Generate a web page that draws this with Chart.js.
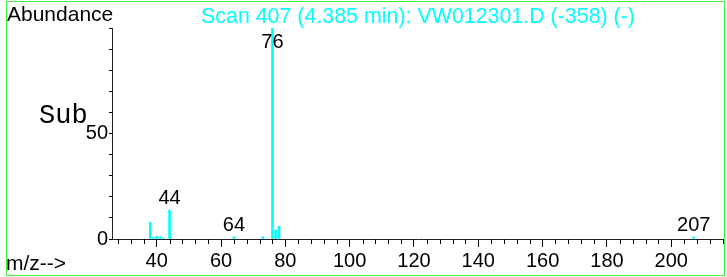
<!DOCTYPE html>
<html>
<head>
<meta charset="utf-8">
<script src="https://cdn.jsdelivr.net/npm/chart.js@4/dist/chart.umd.min.js"></script>
<style>
  html, body { margin: 0; padding: 0; background: #fff; }
  #wrap { position: relative; width: 727px; height: 277px; }
</style>
</head>
<body>
<div id="wrap"><canvas id="c" width="727" height="277"></canvas></div>
<script>
// ---- data ----
const mzValues   = [38, 39, 40, 41, 42, 44, 64, 73, 76, 77, 78, 207];
const abundances = [8.0, 0.7, 1.3, 1.1, 0.5, 13.7, 1.0, 1.1, 100, 4.3, 6.1, 1.0];
const labeledPeaks = [44, 64, 76, 207];
const xMajorTicks = [40, 60, 80, 100, 120, 140, 160, 180, 200];
const xMinorStep = 4;
const xTickStart = 28, xTickEnd = 216;
const yTickLabels = [0, 50];
const yMinorStep = 10;
const titleText = 'Scan 407 (4.385 min): VW012301.D (-358) (-)';
const yAxisText = 'Abundance';
const xAxisText = 'm/z-->';
const subText = 'Sub';

const CYAN = '#00ffff';
const SANS = '"Liberation Sans", Arial, sans-serif';
const MONO = '"Liberation Mono", "Courier New", monospace';

const points = mzValues.map((m, i) => ({ x: m, y: abundances[i] }));

const overlay = {
  id: 'overlay',
  afterDraw(chart) {
    const ctx = chart.ctx;
    const xs = chart.scales.x, ys = chart.scales.y;
    const area = chart.chartArea;
    ctx.save();
    // minor x ticks
    ctx.strokeStyle = '#000';
    ctx.lineWidth = 1;
    xs.ticks.forEach(t => {
      if (xMajorTicks.indexOf(t.value) === -1) {
        const px = Math.round(xs.getPixelForValue(t.value)) + 0.5;
        ctx.beginPath();
        ctx.moveTo(px, area.bottom);
        ctx.lineTo(px, area.bottom + 5);
        ctx.stroke();
      }
    });
    // peak labels
    ctx.fillStyle = '#000';
    ctx.font = '20px ' + SANS;
    ctx.textAlign = 'center';
    ctx.textBaseline = 'alphabetic';
    labeledPeaks.forEach(m => {
      const i = mzValues.indexOf(m);
      const px = xs.getPixelForValue(m);
      const py = ys.getPixelForValue(abundances[i]);
      const base = Math.max(py - 6, area.top + 20);
      ctx.fillText(String(m), px, base);
    });
    // title
    ctx.fillStyle = CYAN;
    ctx.font = '21.4px ' + SANS;
    ctx.textAlign = 'center';
    ctx.fillText(titleText, (area.left + area.right) / 2, 23);
    // axis texts
    ctx.fillStyle = '#000';
    ctx.textAlign = 'left';
    ctx.font = '21px ' + SANS;
    ctx.fillText(yAxisText, 7, 21);
    ctx.font = '21px ' + SANS;
    ctx.fillText(xAxisText, 6, 270);
    ctx.font = '27px ' + MONO;
    ctx.fillText(subText, 39, 123);
    // frame
    ctx.strokeStyle = '#44ee44';
    ctx.lineWidth = 1;
    ctx.strokeRect(6.5, 1.5, 718, 274);
    ctx.restore();
  }
};

new Chart(document.getElementById('c'), {
  type: 'bar',
  data: {
    datasets: [{
      data: points,
      backgroundColor: CYAN,
      borderWidth: 0,
      barThickness: 2
    }]
  },
  options: {
    responsive: false,
    animation: false,
    events: [],
    layout: { padding: { left: 0, right: 3, top: 28, bottom: 0 } },
    plugins: { legend: { display: false }, tooltip: { enabled: false }, title: { display: false } },
    scales: {
      x: {
        type: 'linear',
        min: 26.1,
        max: 216.4,
        offset: false,
        afterBuildTicks(scale) {
          const t = [];
          for (let v = xTickStart; v <= xTickEnd; v += xMinorStep) t.push({ value: v });
          scale.ticks = t;
        },
        afterFit(scale) { scale.height = 38; },
        border: { display: true, color: '#222', width: 1 },
        grid: {
          drawOnChartArea: false,
          drawTicks: true,
          tickLength: 8,
          offset: false,
          tickColor: c => (xMajorTicks.indexOf(c.tick && c.tick.value) !== -1 ? '#000' : 'rgba(0,0,0,0)')
        },
        ticks: {
          autoSkip: false,
          maxRotation: 0,
          padding: 2,
          color: '#000',
          font: { family: SANS, size: 20 },
          callback: v => (xMajorTicks.indexOf(v) !== -1 ? String(v) : '')
        }
      },
      y: {
        min: 0,
        max: 100,
        afterBuildTicks(scale) {
          const t = [];
          for (let v = 0; v <= 100; v += yMinorStep) t.push({ value: v });
          scale.ticks = t;
        },
        afterFit(scale) { scale.width = 112; },
        border: { display: true, color: '#222', width: 1 },
        grid: { drawOnChartArea: false, drawTicks: true, tickLength: 3, tickColor: '#000' },
        ticks: {
          autoSkip: false,
          padding: 1,
          color: '#000',
          font: { family: SANS, size: 20 },
          callback: v => (yTickLabels.indexOf(v) !== -1 ? String(v) : '')
        }
      }
    }
  },
  plugins: [overlay]
});
</script>
</body>
</html>
